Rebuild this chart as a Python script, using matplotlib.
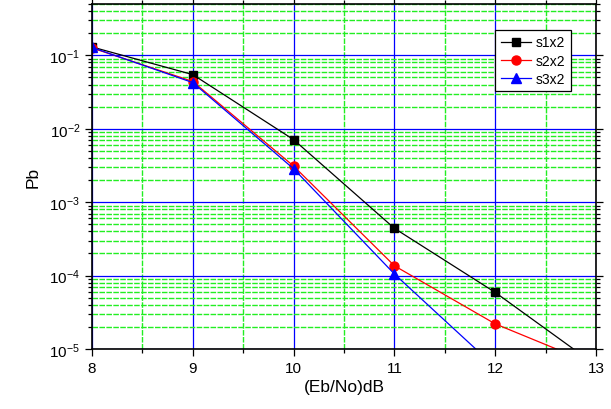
import numpy as np
import matplotlib
matplotlib.use("Agg")
import matplotlib.pyplot as plt
from matplotlib.ticker import LogLocator, FixedLocator

plt.rcParams['font.family'] = ['Liberation Sans', 'DejaVu Sans']
plt.rcParams['mathtext.fontset'] = 'custom'
plt.rcParams['mathtext.rm'] = 'Liberation Sans'

# values
ebno = [8, 9, 10, 11, 12, 13]
s1x2 = [0.130, 0.0546, 0.0071, 4.4e-4, 5.9e-5, 6.0e-6]
s2x2 = [0.126, 0.044, 0.0031, 1.36e-4, 2.2e-5, 6.0e-6]
s3x2 = [0.128, 0.0425, 0.00285, 1.05e-4, 5.7e-6]
labels = ['s1x2', 's2x2', 's3x2']

fig = plt.figure(figsize=(6.11, 4.10), dpi=100)
ax = fig.add_axes([0.1506, 0.1463, 0.8249, 0.8415])

ax.plot(ebno, s1x2, color='black', lw=0.9, marker='s', ms=6, label=labels[0])
ax.plot(ebno, s2x2, color='red', lw=0.9, marker='o', ms=6.5, label=labels[1])
ax.plot(ebno[:len(s3x2)], s3x2, color='blue', lw=0.9, marker='^', ms=7, label=labels[2])

ax.set_yscale('log')
ax.set_xlim(8, 13)
ax.set_ylim(1e-5, 0.5)

ax.xaxis.set_major_locator(FixedLocator(np.arange(8, 14)))
ax.xaxis.set_minor_locator(FixedLocator(np.arange(8.5, 13, 1.0)))
ax.yaxis.set_major_locator(LogLocator(base=10, numticks=10))
ax.yaxis.set_minor_locator(LogLocator(base=10, subs=np.arange(2, 10), numticks=20))

ax.grid(which='major', color='blue', lw=0.9, ls='-')
ax.grid(which='minor', color='#22ee22', lw=1.0, ls=(0, (4, 1)))
ax.set_axisbelow(True)

ax.tick_params(which='both', direction='out', top=True, right=True, labelsize=11, width=0.9, color='black')
ax.tick_params(which='major', length=5)
ax.tick_params(which='minor', length=3)
for s in ax.spines.values():
    s.set_linewidth(1.2)

ax.set_xlabel('(Eb/No)dB', fontsize=12.5, labelpad=3)
ax.set_ylabel('Pb', fontsize=12.5, labelpad=6)

leg = ax.legend(loc='upper left', bbox_to_anchor=(0.786, 0.945), fontsize=10,
                frameon=True, fancybox=False, edgecolor='black', framealpha=1,
                handlelength=2.2, borderpad=0.4, labelspacing=0.3, handletextpad=0.3)
leg.get_frame().set_linewidth(0.9)

fig.savefig('out.png', dpi=100)
